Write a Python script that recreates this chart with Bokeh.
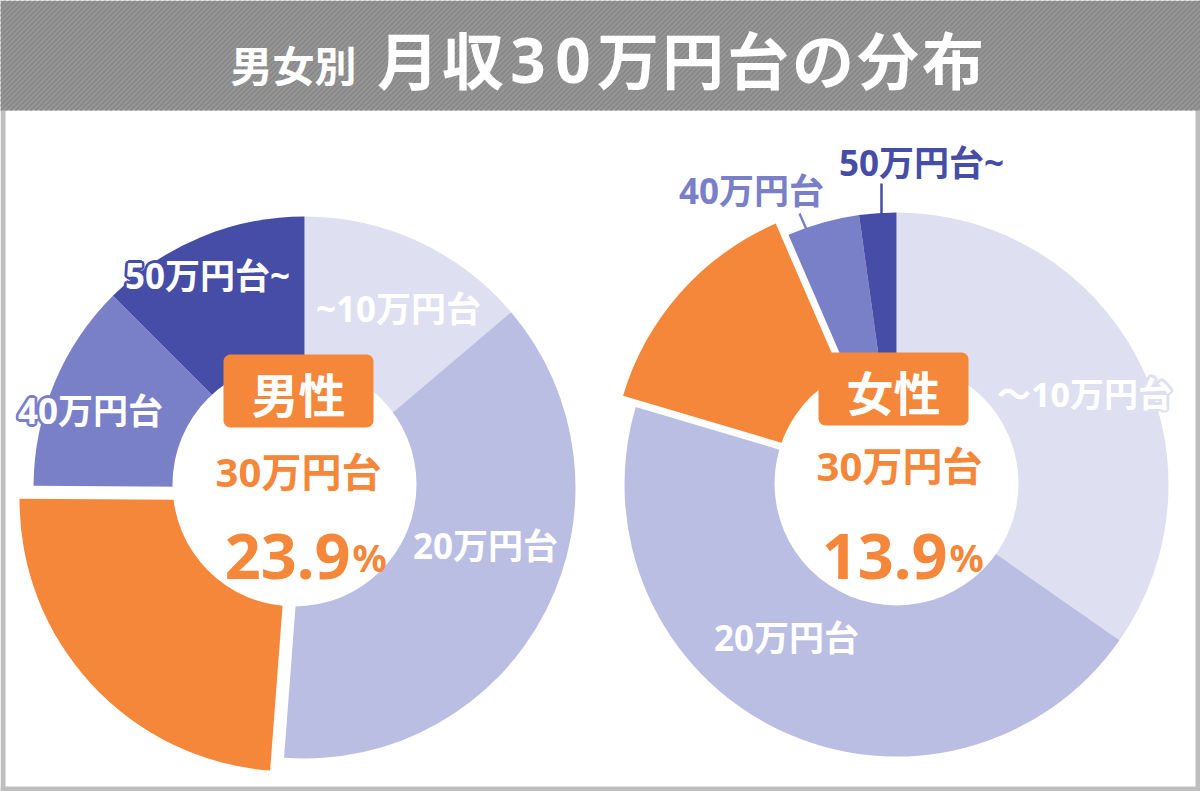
import numpy as np
from bokeh.plotting import figure
from bokeh.models import Range1d, ColumnDataSource
from bokeh.core.properties import value
from bokeh.embed import file_html
from bokeh.resources import INLINE

W, H = 1200, 791

# ---- data -------------------------------------------------------------
categories = ["~10万円台", "20万円台", "30万円台", "40万円台", "50万円台~"]
male_share = [13.8, 37.4, 23.9, 12.4, 12.5]
female_share = [34.7, 44.9, 13.9, 4.3, 2.2]
slice_colors = ["#DEDFF1", "#BBBEE3", "#F5873A", "#7A80C8", "#464DA6"]
highlight_index = 2

male_slice_labels = ["~10万円台", "20万円台", "", "40万円台", "50万円台~"]
female_slice_labels = ["〜10万円台", "20万円台", "", "40万円台", "50万円台~"]

title_small = "男女別"
title_main = "月収30万円台の分布"
panel_names = ["男性", "女性"]

CJK = "Noto Sans CJK JP"
MIX = "Noto Sans, Noto Sans CJK JP"
ORANGE = "#F5873A"


def Y(y):
    """top-down pixel row to plot y"""
    return H - y


p = figure(width=W, height=H, x_range=Range1d(0, W), y_range=Range1d(0, H),
           output_backend="svg", toolbar_location=None,
           x_axis_location=None, y_axis_location=None,
           min_border=0, outline_line_color=None,
           background_fill_color="white", border_fill_color="white")
p.grid.visible = False

# ---- frame and title bar ---------------------------------------------
p.quad(left=[0, W - 5, 0], right=[5, W, W], bottom=[0, 0, 0], top=[H, H, 5],
       fill_color="#BEBEBE", line_color=None)
p.quad(left=[0], right=[W], bottom=[Y(110)], top=[H], fill_color="#969696", line_color=None)
sx = np.arange(-120, W + 10, 5)
p.segment(x0=sx, y0=[Y(110)] * len(sx), x1=sx + 110, y1=[H] * len(sx),
          line_color="#858585", line_width=1.4)

p.text(x=[293], y=[Y(63)], text=[title_small], text_color="white",
       text_font=value(CJK), text_font_style="bold", text_font_size="42px",
       text_align="center", text_baseline="middle")

# per-glyph placement of the main title (wide CJK advance, narrower digits)
adv = [45 if ch.isdigit() else 65 for ch in title_main]
left_edges = 375 + np.concatenate([[0], np.cumsum(adv)[:-1]])
centers = left_edges + np.array(adv) / 2
p.text(x=centers, y=[Y(60)] * len(title_main), text=list(title_main), text_color="white",
       text_font=value(MIX), text_font_style="bold", text_font_size="62px",
       text_align="center", text_baseline="middle")


# ---- donuts ------------------------------------------------------------
def donut(cx, cy, r, shares, explode):
    shares = np.asarray(shares, dtype=float)
    cum = np.concatenate([[0], np.cumsum(shares)]) / shares.sum()
    start = np.pi / 2 - 2 * np.pi * cum[:-1]
    end = np.pi / 2 - 2 * np.pi * cum[1:]
    xs = np.full(len(shares), float(cx))
    ys = np.full(len(shares), float(Y(cy)))
    mid = (start[highlight_index] + end[highlight_index]) / 2
    xs[highlight_index] += explode * np.cos(mid)
    ys[highlight_index] += explode * np.sin(mid)
    src = ColumnDataSource(dict(x=xs, y=ys, start=start, end=end, color=slice_colors,
                                cat=categories))
    p.wedge(x="x", y="y", radius=r, start_angle="start", end_angle="end",
            direction="clock", fill_color="color", line_color=None, source=src)


donut(304, 487, 271, male_share, 19)
donut(896, 484, 272, female_share, 17)

# inner white discs
p.circle(x=[294, 896], y=[Y(484), Y(483)], radius=122, fill_color="white", line_color=None)


# ---- slice labels -----------------------------------------------------
def label(x, y, txt, color="white", halo=None, size="35px"):
    if halo:
        ang = np.linspace(0, 2 * np.pi, 16, endpoint=False)
        hx = x + 2.6 * np.cos(ang)
        hy = Y(y) + 2.6 * np.sin(ang)
        p.text(x=hx, y=hy, text=[txt] * len(ang), text_color=halo, text_font=value(MIX),
               text_font_style="bold", text_font_size=size, text_align="center",
               text_baseline="middle")
    p.text(x=[x], y=[Y(y)], text=[txt], text_color=color, text_font=value(MIX),
           text_font_style="bold", text_font_size=size, text_align="center",
           text_baseline="middle")


label(207, 275, male_slice_labels[4], halo=slice_colors[4])
label(398, 308, male_slice_labels[0], halo=slice_colors[0])
label(90, 410, male_slice_labels[3], halo=slice_colors[3])
label(485, 545, male_slice_labels[1], halo=slice_colors[1])

label(1084, 393, female_slice_labels[0], halo=slice_colors[0], size="34px")
label(786, 637, female_slice_labels[1], halo=slice_colors[1])
label(751, 190, female_slice_labels[3], color=slice_colors[3])
label(921, 162, female_slice_labels[4], color=slice_colors[4])

# leader lines for the thin slices
p.segment(x0=[799, 881], y0=[Y(213), Y(183)], x1=[806, 881], y1=[Y(229), Y(215)],
          line_color=[slice_colors[3], slice_colors[4]], line_width=2.5)


# ---- centre captions --------------------------------------------------
def rounded_box(x0, y0, x1, y1, r, color):
    pts = []
    corners = [(x1 - r, y0 + r, -90, 0), (x1 - r, y1 - r, 0, 90),
               (x0 + r, y1 - r, 90, 180), (x0 + r, y0 + r, 180, 270)]
    for cx, cy, a0, a1 in corners:
        for a in np.radians(np.linspace(a0, a1, 8)):
            pts.append((cx + r * np.cos(a), cy + r * np.sin(a)))
    xs = [q[0] for q in pts]
    ys = [Y(q[1]) for q in pts]
    p.patch(xs, ys, fill_color=color, line_color=None)


boxes = [(223, 354, 373, 427), (818, 352, 968, 425)]
for (x0, y0, x1, y1), name in zip(boxes, panel_names):
    rounded_box(x0, y0, x1, y1, 7, ORANGE)
    p.text(x=[(x0 + x1) / 2], y=[Y((y0 + y1) / 2 + 1)], text=[name], text_color="white",
           text_font=value(CJK), text_font_style="bold", text_font_size="47px",
           text_align="center", text_baseline="middle")

centre_x = [298, 899]
centre_y = [471, 465]
pct_right = [350, 947]
pct_base = [556, 556]
for i, shares in enumerate([male_share, female_share]):
    p.text(x=[centre_x[i]], y=[Y(centre_y[i])], text=[categories[highlight_index]],
           text_color=ORANGE, text_font=value(MIX), text_font_style="bold",
           text_font_size="40px", text_align="center", text_baseline="middle")
    p.text(x=[pct_right[i]], y=[Y(pct_base[i])], text=[f"{shares[highlight_index]:.1f}"],
           text_color=ORANGE, text_font=value("Noto Sans"), text_font_style="bold",
           text_font_size="63px", text_align="right", text_baseline="alphabetic")
    p.text(x=[pct_right[i] + 2], y=[Y(pct_base[i])], text=["%"],
           text_color=ORANGE, text_font=value("Noto Sans"), text_font_style="bold",
           text_font_size="38px", text_align="left", text_baseline="alphabetic")

open("out.html", "w").write(file_html(p, INLINE))
